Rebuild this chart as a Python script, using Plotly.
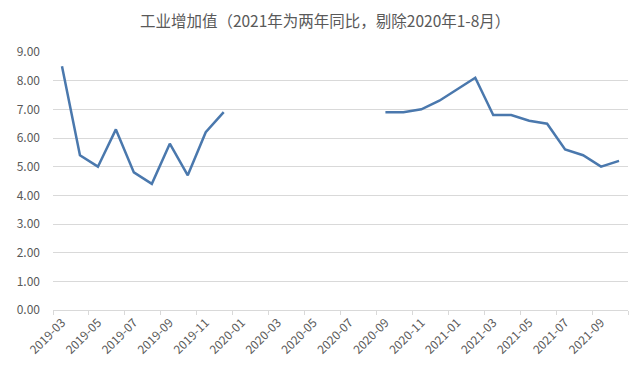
import plotly.graph_objects as go

months = [
    "2019-03", "2019-04", "2019-05", "2019-06", "2019-07", "2019-08", "2019-09", "2019-10",
    "2019-11", "2019-12", "2020-01", "2020-02", "2020-03", "2020-04", "2020-05", "2020-06",
    "2020-07", "2020-08", "2020-09", "2020-10", "2020-11", "2020-12", "2021-01", "2021-02",
    "2021-03", "2021-04", "2021-05", "2021-06", "2021-07", "2021-08", "2021-09", "2021-10",
]
values = [
    8.5, 5.4, 5.0, 6.3, 4.8, 4.4, 5.8, 4.7,
    6.2, 6.9, None, None, None, None, None, None,
    None, None, 6.9, 6.9, 7.0, 7.3, 7.7, 8.1,
    6.8, 6.8, 6.6, 6.5, 5.6, 5.4, 5.0, 5.2,
]
y_ticks = [0, 1, 2, 3, 4, 5, 6, 7, 8, 9]
title_text = "工业增加值（2021年为两年同比，剔除2020年1-8月）"

fig = go.Figure()
fig.add_trace(go.Scatter(
    x=months, y=values, mode="lines", connectgaps=False,
    line=dict(color="#4a78ad", width=2.5),
    showlegend=False, hoverinfo="skip",
))

font_family = "Noto Sans CJK SC, Noto Sans, sans-serif"
fig.update_layout(
    width=640, height=365,
    margin=dict(l=53, r=12, t=52, b=55),
    paper_bgcolor="white", plot_bgcolor="white",
    title=dict(text=title_text, x=0.508, xanchor="center", y=0.94, yanchor="middle",
               font=dict(family=font_family, size=15.5, color="#595959")),
    font=dict(family=font_family, color="#595959", size=12),
)
fig.update_xaxes(
    type="category", categoryorder="array", categoryarray=months,
    range=[-0.5, len(months) - 0.5], automargin=False,
    tickmode="linear", tick0=0, dtick=2, tickson="boundaries",
    tickangle=-45, ticks="outside", ticklen=4, tickcolor="#d9d9d9",
    showgrid=False, showline=True, linecolor="#d9d9d9", linewidth=1,
    tickfont=dict(family=font_family, size=12, color="#595959"),
)
fig.update_yaxes(
    range=[0, 9], tickvals=y_ticks, ticktext=[f"{v:.2f}" for v in y_ticks],
    automargin=False,
    showgrid=True, gridcolor="#d9d9d9", gridwidth=1, zeroline=False,
    showline=False, ticks="", ticklabelstandoff=12,
    tickfont=dict(family=font_family, size=12, color="#595959"),
)

fig.write_html("out.html", config={"displayModeBar": False},
               post_script="document.body.style.margin='0px';")
